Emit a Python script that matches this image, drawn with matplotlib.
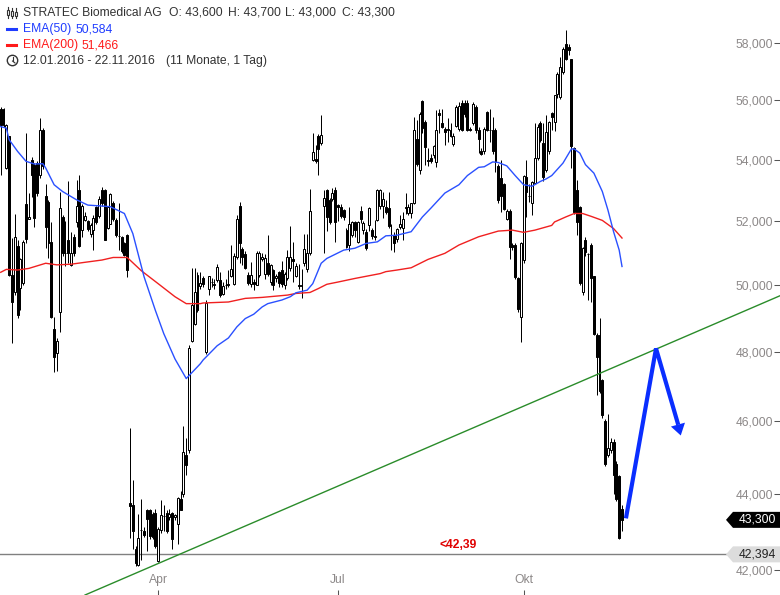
import matplotlib
matplotlib.use("Agg")
import matplotlib.pyplot as plt
from matplotlib.lines import Line2D
from matplotlib.patches import Polygon, Circle
from matplotlib.transforms import Affine2D, IdentityTransform

W, H = 780, 595

opens = [55.72,55.72,53.73,54.78,50.31,49.8,51.23,49.93,50.07,52.56,
52.08,54.0,53.84,53.89,53.49,55.0,52.82,52.63,51.33,48.67,
47.98,49.19,52.14,51.0,51.41,50.62,51.51,51.98,53.02,51.74,
52.03,52.01,51.61,51.72,52.47,52.17,53.02,53.02,51.8,51.93,
52.6,52.03,51.55,51.49,51.3,51.58,43.75,43.7,42.53,42.13,
43.03,43.01,43.57,43.57,42.85,43.48,42.22,43.03,43.4,43.48,
43.38,43.48,43.38,43.2,43.86,43.99,45.07,45.19,48.33,48.82,
49.24,49.99,50.21,48.0,49.9,50.1,50.05,50.16,50.16,49.72,
50.0,50.05,50.3,50.05,50.86,52.5,51.12,50.97,50.31,50.03,
50.1,50.02,50.31,50.8,50.34,50.7,50.1,50.47,50.21,50.41,
50.47,50.0,50.22,50.52,50.8,50.29,50.02,50.02,50.68,50.49,
50.99,54.0,54.02,54.8,54.56,52.49,53.02,52.69,52.71,53.02,
52.52,52.47,52.36,51.72,51.25,51.56,51.98,51.35,52.33,51.74,
51.67,51.87,51.74,51.53,52.05,52.49,52.49,52.45,52.42,51.57,
51.56,51.43,51.82,51.79,52.47,52.28,52.27,52.6,54.69,53.65,
55.97,55.28,54.0,54.05,54.17,53.92,55.56,55.24,55.02,55.02,
55.0,54.52,55.14,55.02,55.92,55.92,55.92,55.02,55.22,55.78,
55.0,54.3,54.28,55.59,55.01,55.0,55.0,53.78,53.4,53.21,
52.09,52.34,51.25,51.25,50.21,49.04,50.78,53.43,52.82,52.58,
53.23,54.05,55.22,54.56,53.67,54.28,55.56,55.28,56.23,56.12,
56.97,57.99,57.87,57.43,54.39,53.02,52.47,49.8,51.41,50.97,
51.25,50.27,48.5,48.5,47.17,46.0,45.05,45.2,45.43,44.82,44.48,43.6]

highs = [55.78,55.75,55.2,54.8,51.46,52.25,51.4,50.85,51.4,54.89,
52.9,54.1,53.9,53.95,55.39,55.05,53.21,52.7,51.98,49.04,
48.4,52.96,52.2,52.0,53.31,51.67,51.6,53.34,53.51,52.55,
52.3,52.05,51.95,52.2,52.5,52.8,53.1,53.05,52.5,52.9,
52.65,52.1,52.6,51.55,51.35,51.6,45.8,44.36,42.6,43.46,
43.86,43.1,43.6,43.6,43.5,43.6,43.1,43.82,43.7,43.55,
43.6,43.5,43.45,43.9,44.06,45.86,45.52,48.2,50.52,50.52,
50.4,50.41,50.3,49.55,50.3,50.21,50.2,50.66,50.4,50.1,
50.2,50.47,51.25,51.0,52.19,52.61,51.2,51.05,50.4,50.73,
50.2,51.05,51.05,51.0,50.97,51.58,50.65,50.5,50.35,50.45,
50.76,50.4,51.09,51.84,51.35,50.7,50.66,50.49,51.59,51.61,
53.05,54.89,54.48,54.85,55.5,53.02,53.05,52.75,53.07,53.1,
52.55,52.55,52.4,51.8,52.47,52.0,52.0,52.0,52.49,52.0,
51.75,52.45,51.8,52.03,53.05,53.05,52.96,52.7,52.96,51.93,
51.65,51.8,52.2,52.31,52.91,52.55,52.6,55.44,55.33,55.6,
56.0,55.35,54.4,54.2,54.5,55.67,55.72,55.72,55.1,55.39,
55.22,54.9,55.85,55.95,56.0,56.0,56.0,55.1,55.95,55.85,
55.1,54.4,55.1,55.65,55.72,55.45,55.05,53.85,54.0,53.25,
52.4,52.4,51.3,51.3,50.25,51.35,53.5,53.98,53.2,53.3,
55.22,55.2,55.3,55.22,55.5,55.3,55.6,56.2,57.0,57.52,
57.85,58.48,57.99,57.45,54.42,53.34,52.5,51.2,51.51,51.0,
51.3,50.3,48.55,49.0,47.2,46.05,46.2,45.52,45.5,44.9,44.5,43.7]

lows = [53.5,55.1,53.7,50.3,48.25,49.7,49.0,49.24,50.0,51.3,
52.08,52.77,51.82,52.8,53.4,53.7,51.15,50.83,49.0,47.41,
47.44,48.59,50.9,50.6,50.7,50.6,50.9,51.82,51.2,51.49,
52.0,51.7,51.5,51.09,51.9,52.1,52.5,51.4,51.75,51.9,
52.0,51.5,51.09,51.0,50.9,50.26,42.82,42.54,42.1,42.1,
42.24,42.85,42.48,42.8,42.8,42.55,42.2,42.94,43.0,42.95,
43.3,42.54,43.3,42.66,43.55,43.9,44.5,45.1,48.3,48.8,
49.2,49.9,49.95,47.95,49.7,49.95,49.9,50.1,49.65,49.7,
49.9,49.95,50.25,50.0,50.8,50.7,50.62,50.5,50.0,49.95,
49.85,50.0,50.25,50.75,50.2,50.3,50.0,49.85,50.1,49.95,
49.95,49.9,50.15,50.45,50.1,50.25,49.9,49.62,50.6,50.4,
50.95,53.95,53.9,53.49,54.5,51.01,51.7,51.9,52.65,51.35,
52.0,52.1,52.05,51.15,51.05,51.5,51.5,51.3,51.95,51.6,
51.1,51.7,51.45,51.4,52.0,52.4,52.1,52.25,51.8,51.09,
51.02,51.35,51.75,51.41,52.25,52.2,52.1,52.55,53.8,53.53,
54.9,53.84,53.8,53.9,54.05,53.75,54.89,55.05,54.5,54.6,
54.75,54.45,55.1,54.95,54.95,55.45,54.95,54.95,55.15,54.9,
54.22,54.15,54.2,54.95,54.6,54.2,53.6,52.6,52.3,52.35,
52.05,50.81,51.1,50.2,49.2,48.3,50.7,52.14,52.63,52.2,
53.2,54.0,54.6,53.3,53.6,54.2,55.0,54.95,56.1,56.05,
56.9,57.4,57.6,53.73,52.25,51.56,50.0,49.7,50.9,49.55,
49.5,48.5,46.74,46.8,46.1,44.75,45.0,45.1,44.0,43.8,42.8,43.0]

closes = [55.17,55.17,55.17,50.31,49.49,51.49,49.09,50.8,51.33,51.44,
52.14,53.51,52.12,52.91,55.0,53.78,51.82,51.3,49.04,47.84,
48.33,52.42,50.99,50.99,50.99,51.0,50.99,52.48,51.23,52.49,
52.17,51.77,51.87,52.12,51.98,52.72,52.58,51.41,52.47,52.87,
52.09,51.56,51.53,51.07,50.94,50.47,43.67,43.01,42.18,42.81,
43.02,42.9,43.31,42.87,43.46,42.6,43.07,43.42,43.41,43.01,
43.45,42.8,43.42,43.89,43.57,45.13,44.79,48.12,49.39,49.8,
50.31,50.07,50.05,49.46,50.29,50.11,50.02,50.55,49.7,49.99,
50.01,50.02,50.49,50.9,52.08,51.32,50.86,50.54,50.07,50.33,
50.03,51.01,51.01,50.86,50.83,50.36,50.62,50.0,50.28,50.07,
50.05,50.34,50.88,50.88,50.76,50.6,49.98,49.99,51.12,50.99,
52.33,54.26,53.95,54.37,54.83,52.74,52.14,51.98,52.91,51.98,
52.47,52.16,52.14,51.18,51.9,51.98,51.72,51.98,52.06,51.96,
51.15,52.42,51.53,51.49,53.02,53.02,52.71,52.31,51.85,51.56,
51.3,51.77,51.9,52.09,52.44,52.47,52.58,54.98,53.86,55.53,
55.06,54.42,53.95,53.97,54.47,54.98,55.52,55.11,54.94,55.0,
54.8,54.8,55.78,55.81,55.0,55.53,54.98,55.0,55.89,54.98,
54.69,54.2,55.02,55.0,55.0,54.28,53.95,52.69,52.8,52.39,
52.34,51.2,51.2,50.24,49.29,51.3,53.45,52.96,52.81,53.26,
54.05,55.11,54.67,53.43,54.94,55.26,55.44,56.18,56.9,57.17,
57.78,57.46,57.75,54.47,52.31,51.98,50.07,51.17,51.04,50.96,
50.21,48.54,47.84,46.86,46.17,44.8,45.24,45.43,44.5,43.86,42.82,43.3]

ema50_idx = [0,2,3,6,9,12,15,16,19,22,27,31,36,39,44,47,51,55,58,62,66,71,
             72,77,81,84,87,90,93,95,100,103,105,109,111,114,116,122,126,130,134,
             137,141,146,150,153,158,163,166,170,172,175,177,180,183,186,189,192,194,196,
             200,203,204,206,208,211,214,216,218,220,221]
ema50_val = [55.11,55.06,54.67,54.28,53.95,53.86,53.87,53.73,53.18,52.96,52.69,52.52,52.49,52.47,52.25,51.61,50.26,49.24,48.54,47.79,47.22,47.65,
             47.76,48.18,48.41,48.74,48.99,49.12,49.34,49.44,49.55,49.65,49.77,49.85,50.05,50.68,50.83,51.09,51.15,51.3,51.35,
             51.54,51.56,51.67,52.14,52.42,52.91,53.18,53.48,53.75,53.77,53.93,53.91,53.8,53.48,53.18,53.13,53.29,53.37,53.48,
             53.89,54.36,54.36,54.22,53.84,53.56,52.96,52.36,51.67,51.09,50.58]

ema200_idx = [0,2,6,10,16,20,25,30,36,40,45,50,56,62,66,71,
              72,81,87,93,102,105,110,113,116,120,126,132,135,
              137,141,146,152,158,163,170,177,182,186,190,196,
              197,201,204,207,210,214,218,221]
ema200_val = [50.4,50.49,50.47,50.52,50.68,50.63,50.65,50.71,50.78,50.86,50.86,50.45,50.05,49.65,49.44,49.44,
              49.46,49.49,49.6,49.63,49.7,49.75,49.78,49.9,50.03,50.1,50.21,50.31,50.36,
              50.42,50.47,50.54,50.8,50.99,51.25,51.51,51.69,51.72,51.65,51.72,51.87,
              51.98,52.14,52.25,52.25,52.16,52.03,51.77,51.47]

trend_idx = [30.0, 277.2]
trend_val = [41.35, 49.68]
arrow_idx = [222.4, 233.1, 241.0]
arrow_val = [43.34, 48.1, 45.9]
head_idx = [238.4, 243.4, 241.9]
head_val = [45.85, 45.96, 45.6]
support_level = 42.394
last_close = 43.3
ytick_values = [42, 44, 46, 48, 50, 52, 54, 56, 58]
ytick_labels = ["42,000", "44,000", "46,000", "48,000", "50,000", "52,000", "54,000", "56,000", "58,000"]
xtick_idx = [56, 120, 186]
xtick_labels = ["Apr", "Jul", "Okt"]

plt.rcParams["font.family"] = ["Liberation Sans", "DejaVu Sans"]
FS = 8.7
GREY = "#8c8888"
DARK = "#333333"
BLUE = "#1f3cff"
RED = "#ff1a1a"

fig = plt.figure(figsize=(W / 100, H / 100), dpi=100, facecolor="white")
ax = fig.add_axes([0, 0, 1, 1])
ax.set_yscale("log")
ax.set_xlim(-0.25, 277.2)
ax.set_ylim(41.35, 59.56)
for s in ax.spines.values():
    s.set_visible(False)

# candles
xs = list(range(len(opens)))
ax.vlines(xs, lows, highs, color="black", lw=0.72, zorder=2)
bottoms = [min(o, c) for o, c in zip(opens, closes)]
heights = [abs(c - o) for o, c in zip(opens, closes)]
faces = ["white" if c > o else "black" for o, c in zip(opens, closes)]
ax.bar(xs, heights, bottom=bottoms, width=0.7, color=faces, edgecolor="black",
       linewidth=0.72, zorder=3)

# indicators
ax.plot(ema200_idx, ema200_val, color="#f02020", lw=1.0, zorder=4)
ax.plot(ema50_idx, ema50_val, color="#2a50ff", lw=1.0, zorder=5)
ax.plot(trend_idx, trend_val, color="#2a8c2a", lw=1.0, zorder=6)
ax.axhline(support_level, xmin=0, xmax=726 / W, color="#808080", lw=1.0, zorder=1)

# hand-drawn arrow
ax.plot(arrow_idx, arrow_val, color="#0a2eff", lw=3.0, zorder=7, solid_joinstyle="miter", solid_capstyle="butt")
ax.add_patch(Polygon(list(zip(head_idx, head_val)), closed=True,
                     facecolor="#0a2eff", edgecolor="none", zorder=8))

px = Affine2D().scale(1, -1).translate(0, H)
ax.text(458, 545.5, "<42,39", transform=px,
        color="#e00000", fontsize=FS, fontweight="bold", ha="center", va="center", zorder=9)

# axes labels inside the plot
ax.yaxis.tick_right()
ax.set_yticks(ytick_values)
ax.set_yticklabels(ytick_labels)
ax.minorticks_off()
ax.tick_params(axis="y", which="major", direction="in", length=4.0, width=0.75, color="#555555",
               pad=-5, labelcolor=GREY, labelsize=FS)
for t in ax.get_yticklabels():
    t.set_ha("right")
    t.set_zorder(10)
ax.set_xticks(xtick_idx)
ax.set_xticklabels(xtick_labels)
ax.tick_params(axis="x", direction="in", length=3.5, width=0.75, color="#555555",
               pad=-15, labelcolor=GREY, labelsize=FS)

# value tags
fig.canvas.draw()
def tag(price, face, txt, color):
    yd = ax.transData.transform((0, price))[1]
    h = 8
    pts = [(726, yd), (733, yd + h), (780, yd + h), (780, yd - h), (733, yd - h)]
    fig.add_artist(Polygon(pts, closed=True, transform=IdentityTransform(), facecolor=face, edgecolor="none", zorder=20))
    fig.text(757.5 / W, yd / H, txt, color=color, fontsize=FS, ha="center", va="center", zorder=21)

tag(last_close, "black", "43,300", "white")
tag(support_level, "#dcdcdc", "42,394", "#222222")

# header
def label(x, y, s, color=DARK):
    fig.text(x / W, 1 - y / H, s, color=color, fontsize=FS, ha="left", va="center", zorder=21)

label(23, 12.5, "STRATEC Biomedical AG")
label(169, 12.5, "O: 43,600")
label(228, 12.5, "H: 43,700")
label(285, 12.5, "L: 43,000")
label(342, 12.5, "C: 43,300")
label(23, 29, "EMA(50)", BLUE)
label(75, 29, "50,584", BLUE)
label(23, 45, "EMA(200)", RED)
label(82, 45, "51,466", RED)
label(23, 61, "12.01.2016 - 22.11.2016")
label(166, 61, "(11 Monate, 1 Tag)")

def seg(x0, y0, x1, y1, color=DARK, lw=0.8):
    fig.add_artist(Line2D([x0, x1], [y0, y1], transform=px, color=color, lw=lw, zorder=21))

seg(7, 29, 16, 29, BLUE, 2.2)
seg(7, 45, 16, 45, RED, 2.2)
for x0, y0, y1, b0, b1 in [(8, 7, 18, 10, 15), (12, 8, 18, 11, 16), (15.5, 8, 18, 12, 16)]:
    seg(x0, y0, x0, y1)
    fig.add_artist(Polygon([(x0 - 1, b0), (x0 + 1, b0), (x0 + 1, b1), (x0 - 1, b1)], transform=px,
                           facecolor="white", edgecolor=DARK, lw=0.8, zorder=22))
fig.add_artist(Circle((12.5, 60.5), 5.2, transform=px, facecolor="white", edgecolor=DARK, lw=1.0, zorder=21))
seg(12.5, 57, 12.5, 61)
seg(12.5, 61, 15, 63)

fig.savefig("out.png", dpi=100)
